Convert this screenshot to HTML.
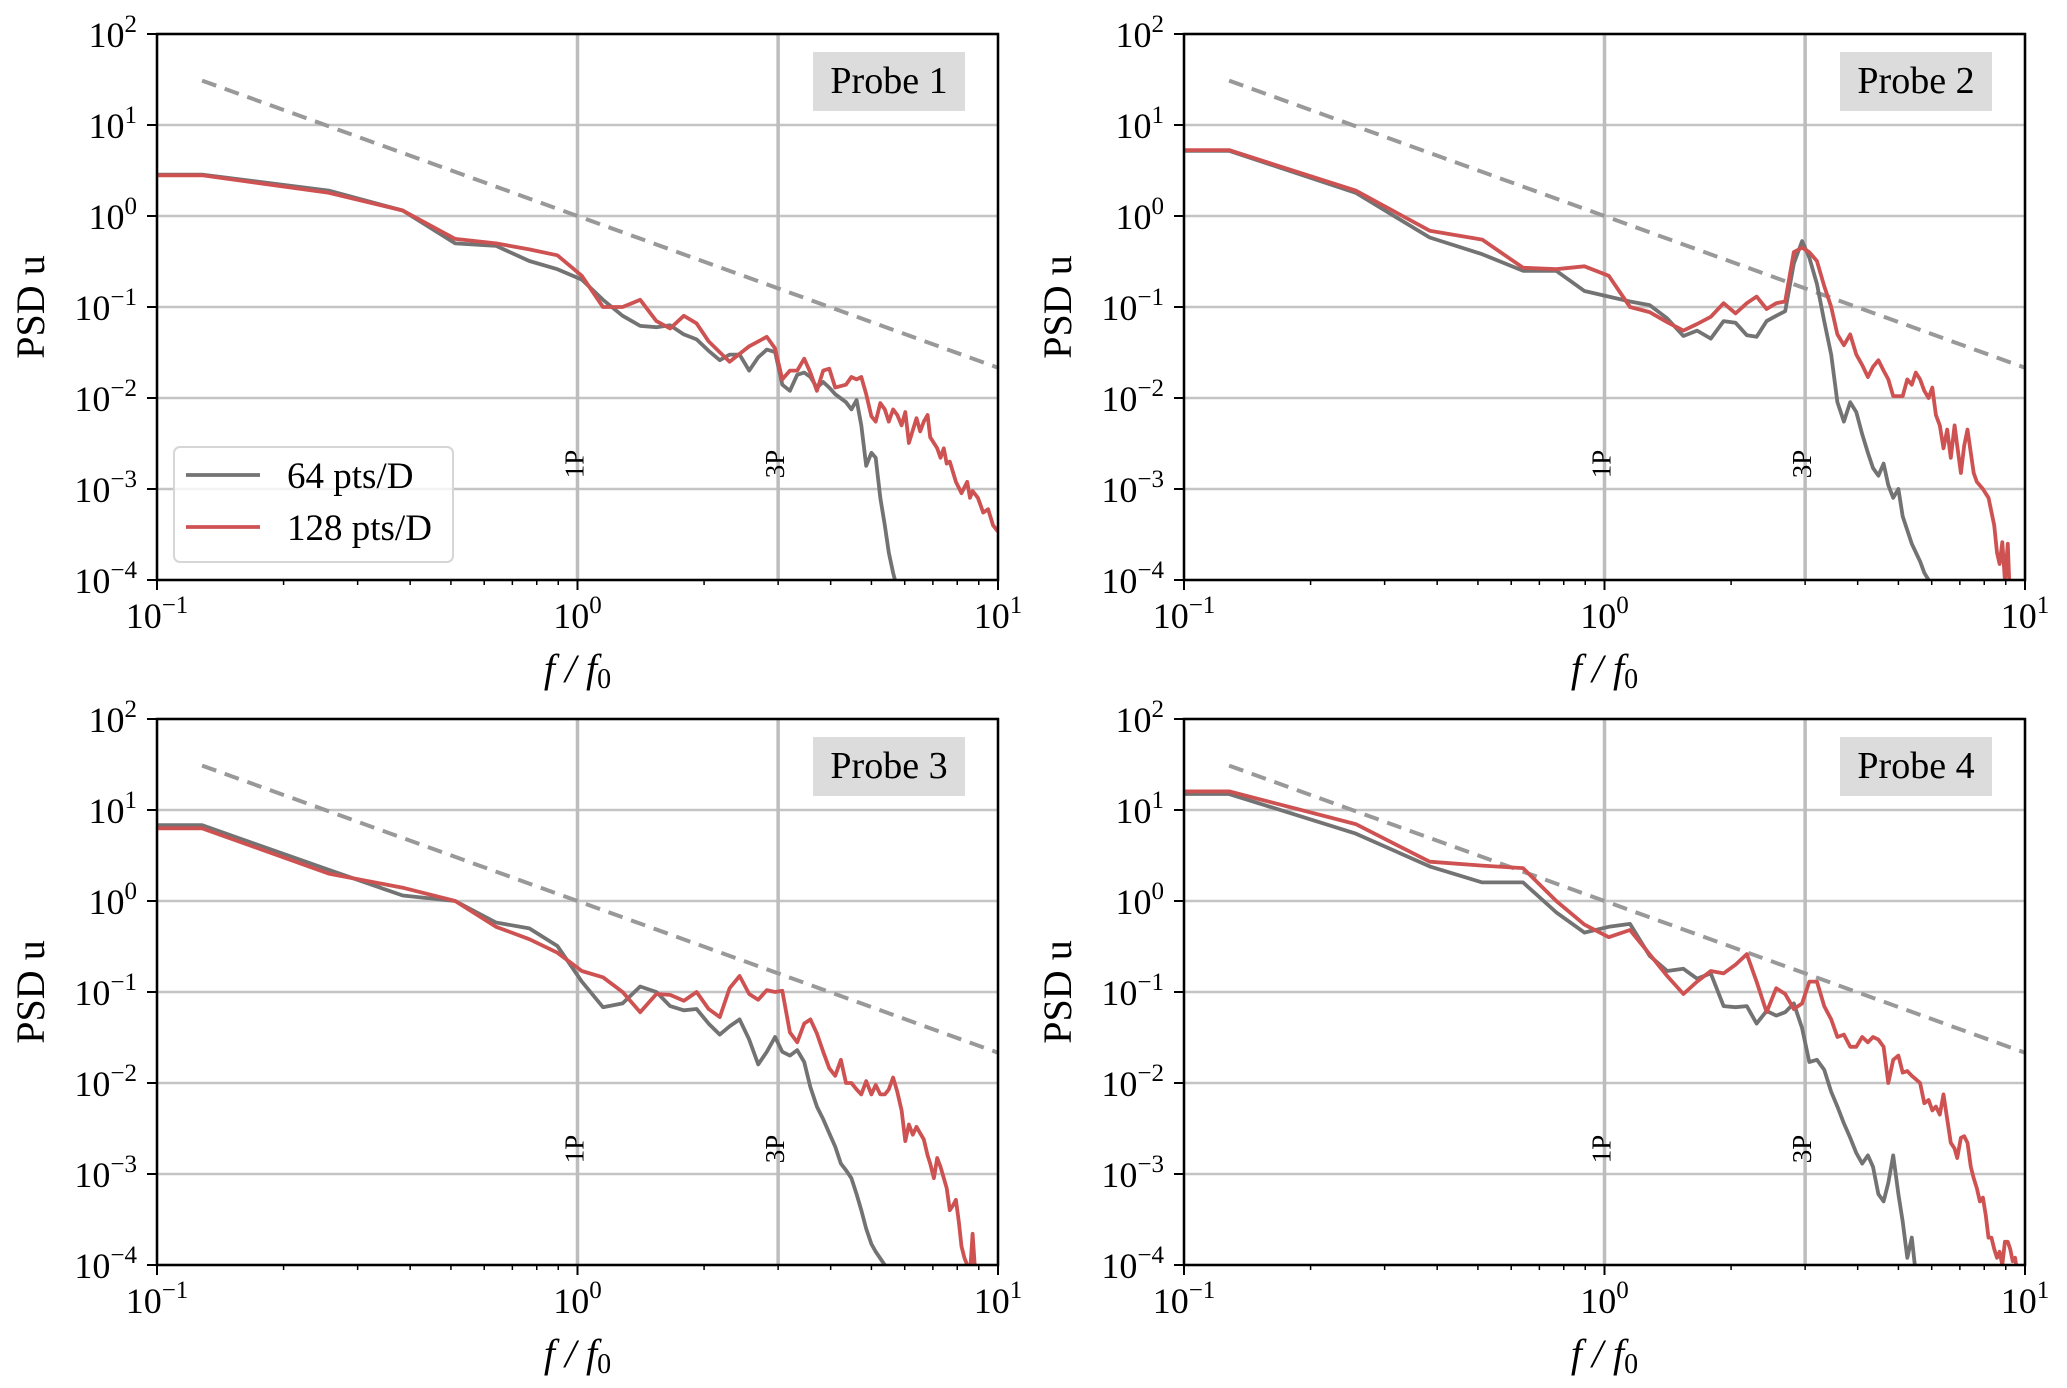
<!DOCTYPE html>
<html><head><meta charset="utf-8"><title>PSD u</title>
<style>html,body{margin:0;padding:0;background:#fff}svg{display:block}text{font-family:"Liberation Serif",serif;fill:#000}</style>
</head><body>
<svg id="fig" width="2067" height="1388" viewBox="0 0 2067 1388" xmlns="http://www.w3.org/2000/svg"></svg>
<script>
// ---- data ----
const probeNames = ["Probe 1","Probe 2","Probe 3","Probe 4"];
const legendLabels = ["64 pts/D","128 pts/D"];
const xTickExp = [-1,0,1];
const yTickExp = [2,1,0,-1,-2,-3,-4];
const refLines = [1,3];
const refLabels = ["1P","3P"];

const p1GrayF = [0.1,0.128,0.256,0.384,0.512,0.64,0.768,0.896,1.024,1.15,1.28,1.41,1.54,1.66,1.79,1.92,2.05,2.18,2.3,2.43,2.56,2.69,2.82,2.95,3.07,3.2,3.33,3.46,3.58,3.71,3.84,3.97,4.1,4.35,4.48,4.61,4.73,4.86,5.0,5.12,5.25,5.38,5.5,5.63,5.76];
const p1GrayV = [2.85,2.85,1.9,1.15,0.5,0.47,0.32,0.26,0.2,0.12,0.08,0.062,0.06,0.063,0.05,0.044,0.033,0.026,0.03,0.03,0.02,0.028,0.034,0.032,0.014,0.012,0.018,0.019,0.017,0.013,0.015,0.013,0.011,0.009,0.0075,0.0095,0.005,0.0018,0.0025,0.0022,0.0008,0.0004,0.0002,0.00012,0.00008];
const p1RedF = [0.1,0.128,0.256,0.384,0.512,0.64,0.768,0.896,1.024,1.15,1.28,1.41,1.54,1.66,1.79,1.92,2.05,2.3,2.56,2.82,2.95,3.07,3.2,3.33,3.46,3.58,3.71,3.84,3.97,4.1,4.35,4.48,4.61,4.73,4.86,5.0,5.12,5.25,5.38,5.5,5.63,5.76,5.9,6.02,6.14,6.4,6.53,6.66,6.8,6.9,7.04,7.17,7.3,7.43,7.55,7.68,7.94,8.19,8.45,8.58,8.7,8.96,9.22,9.47,9.73,10];
const p1RedV = [2.8,2.8,1.8,1.15,0.56,0.5,0.43,0.37,0.22,0.1,0.1,0.12,0.07,0.058,0.08,0.066,0.042,0.025,0.037,0.047,0.035,0.016,0.02,0.02,0.027,0.019,0.012,0.02,0.021,0.013,0.014,0.017,0.016,0.017,0.011,0.0063,0.0055,0.0088,0.0075,0.0055,0.0075,0.0065,0.005,0.007,0.0032,0.006,0.0043,0.0055,0.0065,0.0037,0.0032,0.0028,0.0022,0.0028,0.0019,0.002,0.0012,0.0009,0.0012,0.0008,0.00095,0.0008,0.00055,0.0006,0.0004,0.00034];

const p2GrayF = [0.1,0.128,0.256,0.384,0.512,0.64,0.768,0.896,1.024,1.15,1.28,1.41,1.54,1.66,1.79,1.92,2.05,2.18,2.3,2.43,2.56,2.69,2.82,2.95,3.07,3.2,3.33,3.46,3.58,3.71,3.84,3.97,4.1,4.23,4.35,4.48,4.61,4.73,4.86,5.0,5.12,5.38,5.63,5.76,5.9,6.0];
const p2GrayV = [5.2,5.2,1.8,0.58,0.38,0.25,0.25,0.15,0.13,0.115,0.105,0.075,0.048,0.055,0.045,0.07,0.067,0.049,0.047,0.07,0.08,0.09,0.3,0.53,0.35,0.18,0.07,0.03,0.009,0.0055,0.009,0.007,0.004,0.0025,0.0017,0.0014,0.0019,0.0011,0.0008,0.001,0.0005,0.00025,0.00016,0.00012,0.0001,0.00009];
const p2RedF = [0.1,0.128,0.256,0.384,0.512,0.64,0.768,0.896,1.024,1.15,1.28,1.41,1.54,1.66,1.79,1.92,2.05,2.18,2.3,2.43,2.56,2.69,2.82,2.95,3.07,3.2,3.33,3.46,3.58,3.71,3.84,3.97,4.1,4.23,4.35,4.48,4.61,4.73,4.86,5.0,5.12,5.25,5.38,5.5,5.63,5.76,5.9,6.02,6.14,6.27,6.4,6.53,6.66,6.8,6.9,7.04,7.17,7.3,7.43,7.55,7.68,7.94,8.19,8.45,8.58,8.7,8.83,8.96,9.1,9.22];
const p2RedV = [5.3,5.3,1.9,0.69,0.55,0.27,0.26,0.28,0.22,0.1,0.088,0.068,0.055,0.065,0.078,0.11,0.085,0.11,0.13,0.095,0.11,0.115,0.4,0.45,0.4,0.32,0.17,0.1,0.05,0.038,0.05,0.03,0.023,0.017,0.022,0.026,0.02,0.016,0.0105,0.0105,0.0105,0.016,0.014,0.019,0.016,0.012,0.01,0.013,0.0065,0.005,0.0028,0.0045,0.0022,0.005,0.003,0.0015,0.003,0.0045,0.0025,0.0015,0.0012,0.001,0.0008,0.0004,0.0002,0.00015,0.00026,0.0001,0.00025,0.00005];

const p3GrayF = [0.1,0.128,0.256,0.384,0.512,0.64,0.768,0.896,1.024,1.15,1.28,1.41,1.54,1.66,1.79,1.92,2.05,2.18,2.3,2.43,2.56,2.69,2.82,2.95,3.07,3.2,3.33,3.46,3.58,3.71,3.84,3.97,4.1,4.23,4.35,4.48,4.61,4.73,4.86,5.0,5.12,5.38,5.5];
const p3GrayV = [6.8,6.8,2.2,1.15,1.0,0.58,0.5,0.32,0.13,0.068,0.075,0.115,0.1,0.07,0.063,0.065,0.045,0.034,0.042,0.05,0.03,0.016,0.022,0.032,0.022,0.02,0.023,0.017,0.009,0.0055,0.004,0.0028,0.002,0.0013,0.0011,0.0009,0.0006,0.0004,0.00025,0.00017,0.00014,0.0001,0.00007];
const p3RedF = [0.1,0.128,0.256,0.384,0.512,0.64,0.768,0.896,1.024,1.15,1.28,1.41,1.54,1.66,1.79,1.92,2.05,2.18,2.3,2.43,2.56,2.69,2.82,2.95,3.07,3.2,3.33,3.46,3.58,3.71,3.84,3.97,4.1,4.23,4.35,4.48,4.61,4.73,4.86,5.0,5.12,5.25,5.38,5.5,5.63,5.76,5.9,6.02,6.14,6.27,6.4,6.53,6.66,6.8,6.9,7.04,7.17,7.3,7.43,7.55,7.68,7.81,7.94,8.07,8.19,8.32,8.45,8.58,8.7,8.83];
const p3RedV = [6.3,6.3,2.0,1.4,1.0,0.52,0.38,0.27,0.17,0.145,0.1,0.06,0.095,0.093,0.08,0.1,0.065,0.053,0.11,0.15,0.095,0.082,0.105,0.1,0.103,0.036,0.028,0.045,0.05,0.035,0.022,0.0145,0.012,0.018,0.01,0.01,0.0085,0.0075,0.0105,0.0075,0.0095,0.0075,0.0075,0.0085,0.0115,0.008,0.005,0.0023,0.0035,0.0027,0.0033,0.0028,0.0024,0.0016,0.0013,0.0009,0.0015,0.0012,0.0009,0.0007,0.0004,0.00045,0.00052,0.0003,0.00016,0.00012,0.0001,0.00008,0.00022,0.00008];

const p4GrayF = [0.1,0.128,0.256,0.384,0.512,0.64,0.768,0.896,1.024,1.15,1.28,1.41,1.54,1.66,1.79,1.92,2.05,2.18,2.3,2.43,2.56,2.69,2.82,2.95,3.07,3.2,3.33,3.46,3.58,3.71,3.84,3.97,4.1,4.23,4.35,4.48,4.61,4.73,4.86,5.0,5.12,5.25,5.38,5.5];
const p4GrayV = [15,15,5.5,2.4,1.6,1.6,0.75,0.45,0.52,0.56,0.25,0.17,0.18,0.14,0.16,0.07,0.068,0.07,0.045,0.062,0.055,0.06,0.075,0.04,0.017,0.018,0.014,0.008,0.0055,0.0036,0.0025,0.0017,0.0013,0.0016,0.0012,0.0006,0.0005,0.0008,0.0016,0.0006,0.0003,0.00012,0.0002,0.00008];
const p4RedF = [0.1,0.128,0.256,0.384,0.512,0.64,0.768,0.896,1.024,1.15,1.28,1.41,1.54,1.66,1.79,1.92,2.05,2.18,2.3,2.43,2.56,2.69,2.82,2.95,3.07,3.2,3.33,3.46,3.58,3.71,3.84,3.97,4.1,4.23,4.35,4.48,4.61,4.73,4.86,5.0,5.12,5.25,5.38,5.5,5.63,5.76,5.9,6.02,6.14,6.27,6.4,6.53,6.66,6.8,6.9,7.04,7.17,7.3,7.43,7.55,7.68,7.81,7.94,8.07,8.19,8.32,8.45,8.58,8.7,8.83,8.96,9.1,9.22,9.35,9.47,9.73];
const p4RedV = [16,16,7,2.7,2.45,2.3,1.0,0.55,0.4,0.48,0.26,0.15,0.095,0.13,0.17,0.16,0.2,0.26,0.13,0.06,0.11,0.095,0.065,0.075,0.13,0.13,0.07,0.05,0.032,0.034,0.025,0.025,0.032,0.028,0.032,0.03,0.025,0.01,0.018,0.02,0.013,0.0135,0.012,0.011,0.01,0.006,0.0065,0.005,0.0055,0.0045,0.0075,0.004,0.0022,0.0019,0.0015,0.0025,0.0026,0.0022,0.0012,0.0009,0.0007,0.0005,0.00055,0.00035,0.0002,0.0002,0.00015,0.00012,0.00014,0.0001,0.00018,0.00018,0.00015,0.00011,0.00012,0.00005];

const grayF = [p1GrayF,p2GrayF,p3GrayF,p4GrayF];
const grayV = [p1GrayV,p2GrayV,p3GrayV,p4GrayV];
const redF = [p1RedF,p2RedF,p3RedF,p4RedF];
const redV = [p1RedV,p2RedV,p3RedV,p4RedV];
const slopeF = [0.128,10];   // reference f^(-5/3)
const slopeExp = -5/3;

// ---- layout ----
const NS = "http://www.w3.org/2000/svg";
const svg = document.getElementById('fig');
const W = 841, H = 546;
const origins = [[157,34],[1184,34],[157,719],[1184,719]];
const XMIN=-1, XMAX=1, YMIN=-4, YMAX=2;
function mk(tag, attrs, parent){const e=document.createElementNS(NS,tag);for(const k in attrs)e.setAttribute(k,attrs[k]);(parent||svg).appendChild(e);return e;}
function xs(f,p){return origins[p][0]+(Math.log10(f)-XMIN)/(XMAX-XMIN)*W;}
function ys(v,p){return origins[p][1]+(YMAX-Math.log10(v))/(YMAX-YMIN)*H;}
function pow10Label(parent,x,y,exp,anchor){
  const t=mk('text',{x:x,y:y,'font-size':36,'text-anchor':anchor},parent);
  t.appendChild(document.createTextNode('10'));
  const s=document.createElementNS(NS,'tspan');
  s.setAttribute('dy',-15);s.setAttribute('font-size',25);
  s.textContent=(exp<0?'\u2212':'')+Math.abs(exp);
  t.appendChild(s);
  return t;
}

for(let p=0;p<4;p++){
  const [x0,y0]=origins[p];
  const g=mk('g',{});
  
  
  const cp=mk('clipPath',{id:'clip'+p},g);
  mk('rect',{x:x0,y:y0,width:W,height:H},cp);
  const grid=mk('g',{},g);
  
  
  yTickExp.forEach(e=>{const y=ys(Math.pow(10,e),p);mk('line',{x1:x0,x2:x0+W,y1:y,y2:y,stroke:'#c4c4c4','stroke-width':2.5},grid);});
  xTickExp.forEach(e=>{const x=xs(Math.pow(10,e),p);mk('line',{x1:x,x2:x,y1:y0,y2:y0+H,stroke:'#c4c4c4','stroke-width':2.5},grid);});
  refLines.forEach((f,i)=>{
    const x=xs(f,p);
    const l=mk('line',{x1:x,x2:x,y1:y0,y2:y0+H,stroke:'#bdbdbd','stroke-width':3.5},g);
    
    
    const t=mk('text',{x:0,y:0,'font-size':27,'text-anchor':'middle',transform:'translate('+(x+6)+','+(y0+430)+') rotate(-90)'},g);
    
    
    t.textContent=refLabels[i];
  });
  const plot=mk('g',{'clip-path':'url(#clip'+p+')'},g);
  const d0=slopeF.map(f=>xs(f,p).toFixed(1)+','+ys(Math.pow(f,slopeExp),p).toFixed(1)).join(' ');
  const sl=mk('polyline',{points:d0,fill:'none',stroke:'#999','stroke-width':4,'stroke-dasharray':'15,9'},plot);
  
  
  function series(F,V,color,name){
    const pts=F.map((f,i)=>xs(f,p).toFixed(1)+','+ys(V[i],p).toFixed(1)).join(' ');
    const pl=mk('polyline',{points:pts,fill:'none',stroke:color,'stroke-width':3.8,'stroke-linejoin':'round'},plot);
    
    
  }
  series(grayF[p],grayV[p],'#737373','series-64-pts');
  series(redF[p],redV[p],'#cf5252','series-128-pts');
  const fr=mk('rect',{x:x0,y:y0,width:W,height:H,fill:'none',stroke:'#000','stroke-width':2.5},g);
  
  
  const yax=mk('g',{},g);
  
  
  yTickExp.forEach(e=>{const y=ys(Math.pow(10,e),p);mk('line',{x1:x0-10,x2:x0,y1:y,y2:y,stroke:'#000','stroke-width':2},yax);pow10Label(yax,x0-20,y+13,e,'end');});
  const xax=mk('g',{},g);
  
  
  for(let e=XMIN;e<=XMAX;e++){
    const x=xs(Math.pow(10,e),p);
    mk('line',{x1:x,x2:x,y1:y0+H,y2:y0+H+10,stroke:'#000','stroke-width':2},xax);
    pow10Label(xax,x,y0+H+48,e,'middle');
    if(e<XMAX){for(let m=2;m<=9;m++){const xm=xs(m*Math.pow(10,e),p);mk('line',{x1:xm,x2:xm,y1:y0+H,y2:y0+H+5,stroke:'#000','stroke-width':1.5},xax);}}
  }
  const yt=mk('text',{x:0,y:0,'font-size':40,'text-anchor':'middle',transform:'translate('+(x0-113)+','+(y0+H/2)+') rotate(-90)'},g);
  
  
  yt.textContent='PSD u';
  const xt=mk('text',{x:x0+W/2,y:y0+H+102,'font-size':40,'text-anchor':'middle','font-style':'italic'},g);
  
  
  xt.appendChild(document.createTextNode('f / f'));
  const sub=document.createElementNS(NS,'tspan');
  sub.setAttribute('dy',6);sub.setAttribute('font-size',28);sub.setAttribute('font-style','normal');
  sub.textContent='0';xt.appendChild(sub);
  const pb=mk('g',{},g);
  
  
  mk('rect',{x:x0+656,y:y0+18,width:152,height:59,fill:'#dcdcdc'},pb);
  const pt=mk('text',{x:x0+732,y:y0+59,'font-size':38,'text-anchor':'middle'},pb);
  pt.textContent=probeNames[p];
  if(p===0){
    const lg=mk('g',{},g);
    
    
    mk('rect',{x:174,y:447,width:279,height:115,rx:6,fill:'rgba(255,255,255,0.8)',stroke:'#d6d6d6','stroke-width':2},lg);
    const cols=['#737373','#cf5252'];
    legendLabels.forEach((lab,i)=>{
      const yy=475+i*52;
      const e=mk('g',{},lg);
      
      
      mk('line',{x1:186,x2:260,y1:yy,y2:yy,stroke:cols[i],'stroke-width':3.8},e);
      const t=mk('text',{x:287,y:yy+13,'font-size':37},e);
      t.textContent=lab;
    });
  }
}
</script>
</body></html>
